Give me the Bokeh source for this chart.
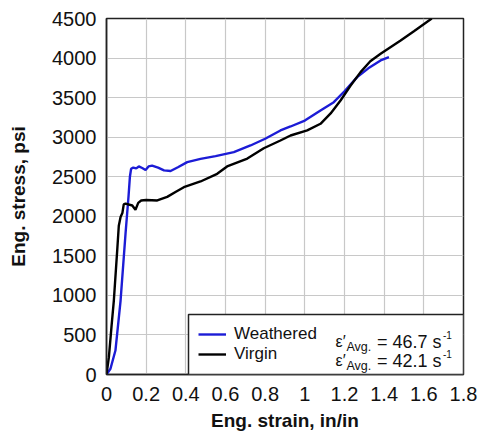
from bokeh.plotting import figure
from bokeh.models import FixedTicker, Legend, LegendItem, Label, Range1d, BoxAnnotation
from bokeh.embed import file_html
from bokeh.resources import INLINE

# ---- data ----
weathered_strain = [0, 0.02, 0.045, 0.071, 0.096, 0.111, 0.118, 0.124, 0.135, 0.15, 0.163,
                    0.18, 0.197, 0.212, 0.23, 0.26, 0.29, 0.323, 0.36, 0.407, 0.474,
                    0.55, 0.642, 0.726, 0.8, 0.877, 0.928, 1.0, 1.079, 1.146, 1.2,
                    1.264, 1.32, 1.382, 1.424]
weathered_stress = [0, 72, 303, 935, 1782, 2250, 2500, 2600, 2615, 2605, 2630,
                    2610, 2585, 2630, 2640, 2615, 2580, 2572, 2620, 2684, 2726,
                    2760, 2810, 2895, 2980, 3085, 3135, 3210, 3338, 3442, 3580,
                    3759, 3870, 3970, 4012]

virgin_strain = [0, 0.012, 0.025, 0.037, 0.054, 0.062, 0.071, 0.08, 0.087, 0.096,
                 0.13, 0.146, 0.16, 0.175, 0.2, 0.256, 0.306, 0.35, 0.39, 0.474,
                 0.558, 0.608, 0.71, 0.793, 0.877, 0.928, 1.012, 1.079, 1.13,
                 1.18, 1.23, 1.281, 1.33, 1.382, 1.483, 1.55, 1.64]
virgin_stress = [0, 219, 600, 935, 1568, 1880, 1990, 2040, 2150, 2160,
                 2136, 2082, 2170, 2200, 2205, 2200, 2245, 2310, 2368, 2440,
                 2537, 2630, 2730, 2860, 2958, 3021, 3085, 3169, 3300,
                 3464, 3650, 3822, 3960, 4054, 4222, 4340, 4500]

x_ticks = [0, 0.2, 0.4, 0.6, 0.8, 1.0, 1.2, 1.4, 1.6, 1.8]
x_tick_labels = ["0", "0.2", "0.4", "0.6", "0.8", "1", "1.2", "1.4", "1.6", "1.8"]
y_ticks = [0, 500, 1000, 1500, 2000, 2500, 3000, 3500, 4000, 4500]
y_tick_labels = ["0", "500", "1000", "1500", "2000", "2500", "3000", "3500", "4000", "4500"]

series_names = ["Weathered", "Virgin"]
rate_values = ["46.7", "42.1"]
series_colors = ["#1c1cd6", "#000000"]

FONT = "Liberation Sans"

p = figure(frame_width=357, frame_height=356,
           min_border_left=106, min_border_right=22, min_border_top=18, min_border_bottom=64,
           x_range=Range1d(0, 1.8), y_range=Range1d(0, 4500),
           output_backend="svg", toolbar_location=None)
p.background_fill_color = "white"
p.border_fill_color = "white"
p.outline_line_color = "#222222"
p.outline_line_width = 1.5

for ax in (p.xaxis[0], p.yaxis[0]):
    ax.major_tick_in = 0
    ax.major_tick_out = 0
    ax.minor_tick_in = 0
    ax.minor_tick_out = 0
    ax.axis_line_color = "#222222"
    ax.axis_line_width = 1.5
    ax.major_label_text_font = FONT
    ax.major_label_text_font_size = "20px"
    ax.major_label_text_color = "#111111"
    ax.axis_label_text_font = FONT
    ax.axis_label_text_font_size = "19px"
    ax.axis_label_text_font_style = "bold"
    ax.axis_label_text_color = "#111111"

p.xaxis.ticker = FixedTicker(ticks=x_ticks)
p.yaxis.ticker = FixedTicker(ticks=y_ticks)
p.xaxis.major_label_overrides = dict(zip(x_ticks, x_tick_labels))
p.yaxis.major_label_overrides = dict(zip(y_ticks, y_tick_labels))
p.xaxis.axis_label = "Eng. strain, in/in"
p.yaxis.axis_label = "Eng. stress, psi"
p.xaxis.major_label_standoff = 12
p.yaxis.major_label_standoff = 10
p.xaxis.axis_label_standoff = 6
p.yaxis.axis_label_standoff = 20

p.xgrid.ticker = FixedTicker(ticks=x_ticks)
p.ygrid.ticker = FixedTicker(ticks=y_ticks)
p.grid.grid_line_color = "#c8c8c8"
p.grid.grid_line_width = 1.2

r_w = p.line(weathered_strain, weathered_stress, line_color=series_colors[0], line_width=2.4)
r_v = p.line(virgin_strain, virgin_stress, line_color=series_colors[1], line_width=2.4)

# legend frame (screen units measured from the frame's bottom-left corner)
box = BoxAnnotation(left=82, right=357, bottom=0, top=60,
                    left_units="screen", right_units="screen",
                    bottom_units="screen", top_units="screen",
                    fill_color="white", fill_alpha=1.0,
                    line_color="#222222", line_width=1.5, line_alpha=1.0)
p.add_layout(box)

# strain-rate annotations with sub/superscripts
row_base = [33, 14]
for i, rate in enumerate(rate_values):
    yb = row_base[i]
    pieces = [
        (229, yb, "ε′", "16px"),
        (240, yb - 5, "Avg.", "12.5px"),
        (270.5, yb, "= " + rate + " s", "18px"),
        (336.5, yb + 6.5, "-1", "10px"),
    ]
    for (lx, ly, txt, fs) in pieces:
        p.add_layout(Label(x=lx, y=ly, x_units="screen", y_units="screen", text=txt,
                           text_font=FONT, text_font_size=fs, text_baseline="alphabetic",
                           text_color="#111111"))

legend = Legend(items=[LegendItem(label=series_names[0], renderers=[r_w]),
                       LegendItem(label=series_names[1], renderers=[r_v])],
                location="bottom_right", margin=0, padding=10, spacing=0,
                glyph_width=28, glyph_height=20, label_height=20, label_width=219,
                label_standoff=8, label_text_font=FONT, label_text_font_size="17px",
                label_text_color="#111111",
                border_line_alpha=0.0, background_fill_alpha=0.0)
p.add_layout(legend)

open("out.html", "w").write(file_html(p, INLINE))
